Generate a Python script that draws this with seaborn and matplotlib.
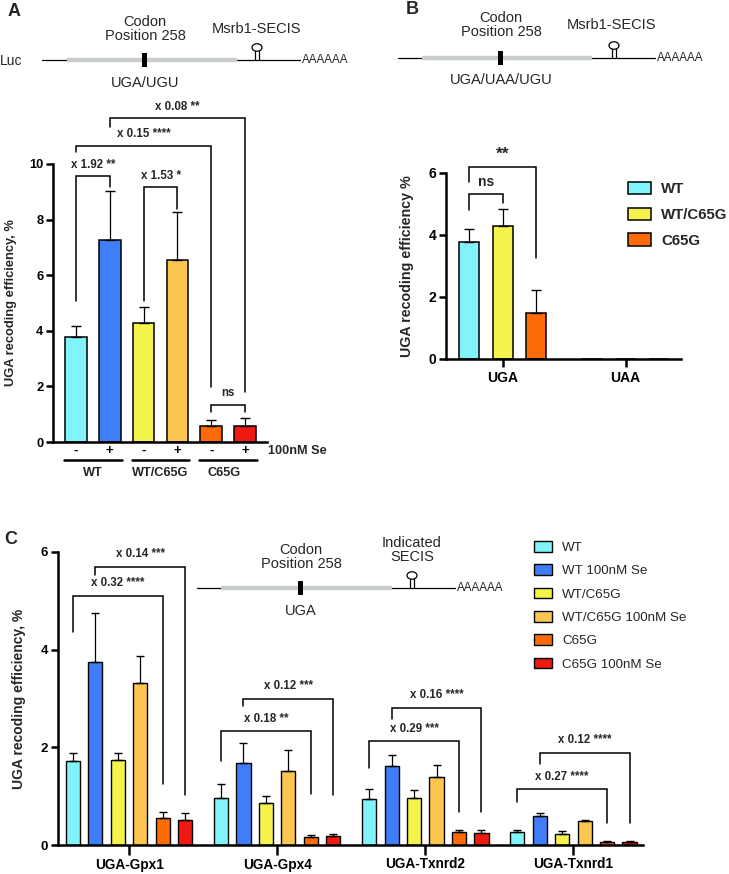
import matplotlib
matplotlib.use("Agg")
import matplotlib.pyplot as plt
from matplotlib.patches import Patch, Rectangle, Ellipse
import numpy as np
import pandas as pd
import seaborn as sns

# ---------------- data ----------------
# panel A: luciferase reporter with Msrb1 SECIS, -/+ 100nM Se
a_genotype = ["WT", "WT", "WT/C65G", "WT/C65G", "C65G", "C65G"]
a_se = ["-", "+", "-", "+", "-", "+"]
a_mean = [3.79, 7.28, 4.28, 6.55, 0.59, 0.59]
a_sd = [0.40, 1.74, 0.56, 1.72, 0.20, 0.27]

# panel B: UGA vs UAA codon
b_codons = ["UGA", "UAA"]
b_genotypes = ["WT", "WT/C65G", "C65G"]
b_uga_mean = [3.79, 4.28, 1.50]
b_uga_sd = [0.40, 0.56, 0.74]
b_uaa_mean = [0.0, 0.0, 0.0]

# panel C: indicated SECIS elements
c_genes = ["UGA-Gpx1", "UGA-Gpx4", "UGA-Txnrd2", "UGA-Txnrd1"]
c_conditions = ["WT", "WT 100nM Se", "WT/C65G", "WT/C65G 100nM Se",
                "C65G", "C65G 100nM Se"]
gpx1_mean = [1.72, 3.74, 1.75, 3.31, 0.55, 0.51]
gpx1_sd = [0.16, 1.01, 0.14, 0.57, 0.12, 0.14]
gpx4_mean = [0.96, 1.68, 0.85, 1.51, 0.17, 0.18]
gpx4_sd = [0.28, 0.41, 0.16, 0.43, 0.04, 0.04]
txnrd2_mean = [0.95, 1.62, 0.96, 1.40, 0.26, 0.25]
txnrd2_sd = [0.19, 0.22, 0.16, 0.23, 0.05, 0.05]
txnrd1_mean = [0.26, 0.60, 0.23, 0.49, 0.06, 0.06]
txnrd1_sd = [0.04, 0.06, 0.05, 0.02, 0.02, 0.02]

colors = ["#80F3FB", "#3F7EF6", "#F4F34C", "#FDC650", "#FD6A08", "#EE1A12"]

# significance brackets: (bar_left, bar_right, y_top, y_left_end, y_right_end, label, y_label)
a_brackets = [
    (0, 1, 9.57, 5.07, 9.17, "x 1.92 **", 9.98),
    (2, 3, 9.17, 5.07, 8.38, "x 1.53 *", 9.58),
    (0, 4, 10.65, 10.43, 1.98, "x 0.15 ****", 11.08),
    (1, 5, 11.65, 11.33, 1.80, "x 0.08 **", 12.05),
    (4, 5, 1.33, 1.08, 1.08, "ns", 1.75),
]
b_brackets = [
    (0, 1, 5.32, 4.80, 5.03, "ns", 5.72),
    (0, 2, 6.19, 5.70, 3.26, "**", 6.62),
]
c_brackets = [
    [(0, 4, 5.10, 4.37, 1.24, "x 0.32 ****", 5.37), (1, 5, 5.70, 5.53, 1.02, "x 0.14 ***", 5.95)],
    [(0, 4, 2.33, 1.72, 1.04, "x 0.18 **", 2.58), (1, 5, 2.99, 2.84, 1.02, "x 0.12 ***", 3.26)],
    [(0, 4, 2.13, 1.57, 0.67, "x 0.29 ***", 2.37), (1, 5, 2.80, 2.58, 0.67, "x 0.16 ****", 3.07)],
    [(0, 4, 1.14, 0.88, 0.45, "x 0.27 ****", 1.39), (1, 5, 1.88, 1.66, 0.45, "x 0.12 ****", 2.15)],
]

# ---------------- style ----------------
sns.set_style("ticks")
plt.rcParams["font.family"] = ["Liberation Sans", "DejaVu Sans"]
plt.rcParams["axes.linewidth"] = 1.8
plt.rcParams["xtick.major.width"] = 1.8
plt.rcParams["ytick.major.width"] = 1.8
plt.rcParams["xtick.color"] = "black"
plt.rcParams["ytick.color"] = "black"
plt.rcParams["axes.edgecolor"] = "black"

W, H = 729, 874
fig = plt.figure(figsize=(W / 100, H / 100), dpi=100)


def px_axes(left, right, top, bottom):
    return fig.add_axes([left / W, 1 - bottom / H, (right - left) / W, (bottom - top) / H])


def bar_centers(ax):
    # one container per hue level, bars ordered by category
    return [[b.get_x() + b.get_width() / 2 for b in cont] for cont in ax.containers]


def add_bracket(ax, x1, x2, ytop, y1, y2, label, ty, fs=8.3):
    ax.plot([x1, x1, x2, x2], [y1, ytop, ytop, y2], color="black", lw=1.1,
            clip_on=False, solid_joinstyle="miter")
    ax.text((x1 + x2) / 2, ty, label, ha="center", va="center",
            fontsize=fs, fontweight="bold", clip_on=False)


def bold_ticks(ax):
    for t in ax.get_xticklabels() + ax.get_yticklabels():
        t.set_fontweight("bold")


# ---------------- panel A ----------------
axA = px_axes(53, 267, 164, 442)
dfA = pd.DataFrame({"cond": [f"{g} {s}" for g, s in zip(a_genotype, a_se)],
                    "value": a_mean})
sns.barplot(data=dfA, x="cond", y="value", hue="cond", palette=colors,
            saturation=1, width=0.64, edgecolor="black", linewidth=1.1,
            errorbar=None, legend=False, ax=axA)
xa = [c[0] for c in bar_centers(axA)]
axA.errorbar(xa, a_mean, yerr=[np.zeros(len(a_sd)), a_sd], fmt="none",
             ecolor="black", elinewidth=0.9, capsize=3.6, capthick=1.0)
axA.set_xlim(-0.68, 5.65)
axA.set_ylim(0, 10)
axA.set_yticks([0, 2, 4, 6, 8, 10])
axA.set_xticks(xa)
axA.set_xticklabels(a_se, fontsize=9.5)
axA.tick_params(axis="x", length=0, pad=2)
axA.tick_params(axis="y", length=5, labelsize=9.3, pad=2)
bold_ticks(axA)
axA.set_xlabel("")
axA.set_ylabel("UGA recoding efficiency, %", fontsize=9.3, fontweight="bold")
axA.yaxis.set_label_coords(-0.17, 0.5)
sns.despine(ax=axA)
for b in a_brackets:
    add_bracket(axA, xa[b[0]], xa[b[1]], *b[2:])
xtr = axA.get_xaxis_transform()
for i, name in enumerate(["WT", "WT/C65G", "C65G"]):
    axA.plot([2 * i - 0.35, 2 * i + 1.35], [-0.065, -0.065], color="black",
             lw=1.8, transform=xtr, clip_on=False)
    axA.text(2 * i + 0.5 - (0.12 if i == 2 else 0), -0.112, name, transform=xtr,
             ha="center", va="center", fontsize=9.2, fontweight="bold")
axA.text(1.005, -0.032, "100nM Se", transform=axA.transAxes, ha="left",
         va="center", fontsize=9.2, fontweight="bold")

# ---------------- panel B ----------------
axB = px_axes(446, 681, 173, 359)
dfB = pd.DataFrame({
    "codon": [b_codons[0]] * 3 + [b_codons[1]] * 3,
    "genotype": b_genotypes * 2,
    "value": b_uga_mean + b_uaa_mean,
})
sns.barplot(data=dfB, x="codon", y="value", hue="genotype", order=b_codons,
            hue_order=b_genotypes, palette=colors[0::2], saturation=1,
            width=0.82, gap=0.4, edgecolor="black", linewidth=1.1,
            errorbar=None, legend=False, ax=axB)
xb = bar_centers(axB)
xb_uga = [xb[h][0] for h in range(3)]
axB.errorbar(xb_uga, b_uga_mean, yerr=[np.zeros(3), b_uga_sd], fmt="none",
             ecolor="black", elinewidth=0.9, capsize=3.6, capthick=1.0)
axB.set_xlim(-0.46, 1.45)
axB.set_ylim(0, 6)
axB.set_yticks([0, 2, 4, 6])
axB.tick_params(axis="x", length=6, labelsize=10, pad=3)
axB.tick_params(axis="y", length=5, labelsize=10, pad=2)
bold_ticks(axB)
axB.set_xlabel("")
axB.set_ylabel("UGA recoding efficiency %", fontsize=10.3, fontweight="bold")
axB.yaxis.set_label_coords(-0.135, 0.5)
sns.despine(ax=axB)
for b in b_brackets:
    add_bracket(axB, xb_uga[b[0]], xb_uga[b[1]], *b[2:],
                fs=12.5 if b[5] == "**" else 10)
handlesB = [Patch(facecolor=c, edgecolor="black", lw=1.1) for c in colors[0::2]]
fig.legend(handlesB, b_genotypes, loc="upper left",
           bbox_to_anchor=(628 / W, 1 - 182 / H), frameon=False,
           prop={"size": 10.8, "weight": "bold"}, handlelength=1.5,
           handleheight=0.9, labelspacing=0.75, handletextpad=0.7,
           borderpad=0, borderaxespad=0)

# ---------------- panel C ----------------
axC = px_axes(58, 643, 552, 845)
c_means = [gpx1_mean, gpx4_mean, txnrd2_mean, txnrd1_mean]
c_sds = [gpx1_sd, gpx4_sd, txnrd2_sd, txnrd1_sd]
dfC = pd.DataFrame({
    "gene": np.repeat(c_genes, len(c_conditions)),
    "condition": c_conditions * len(c_genes),
    "value": np.concatenate(c_means),
    "sd": np.concatenate(c_sds),
})
sns.barplot(data=dfC, x="gene", y="value", hue="condition", order=c_genes,
            hue_order=c_conditions, palette=colors, saturation=1, width=0.91,
            gap=0.37, edgecolor="black", linewidth=1.0, errorbar=None,
            legend=False, ax=axC)
xc = bar_centers(axC)  # [condition][gene]
for h in range(len(c_conditions)):
    sub = dfC[dfC["condition"] == c_conditions[h]]
    axC.errorbar(xc[h], sub["value"], yerr=[np.zeros(len(sub)), sub["sd"]],
                 fmt="none", ecolor="black", elinewidth=0.9, capsize=3.0, capthick=1.0)
axC.set_xlim(-0.48, 3.47)
axC.set_ylim(0, 6)
axC.set_yticks([0, 2, 4, 6])
axC.tick_params(axis="x", length=7, labelsize=9.8, pad=2)
axC.tick_params(axis="y", length=5, labelsize=9.5, pad=2)
bold_ticks(axC)
axC.set_xlabel("")
axC.set_ylabel("UGA recoding efficiency, %", fontsize=10, fontweight="bold")
axC.yaxis.set_label_coords(-0.054, 0.5)
sns.despine(ax=axC)
for g, brs in enumerate(c_brackets):
    for b in brs:
        add_bracket(axC, xc[b[0]][g], xc[b[1]][g], *b[2:])
handlesC = [Patch(facecolor=c, edgecolor="black", lw=1.0) for c in colors]
fig.legend(handlesC, c_conditions, loc="upper left",
           bbox_to_anchor=(534 / W, 1 - 541 / H), frameon=False,
           prop={"size": 9.6}, handlelength=1.35, handleheight=0.85,
           labelspacing=0.78, handletextpad=0.75, borderpad=0, borderaxespad=0)

# ---------------- schematics and panel letters (pixel overlay, on top) ----------------
ov = fig.add_axes([0, 0, 1, 1])
ov.set_xlim(0, W)
ov.set_ylim(H, 0)
ov.axis("off")


def construct(x0, g0, g1, x1, y, xbox, xloop, tail):
    ov.plot([x0, g0], [y, y], color="black", lw=0.9)
    ov.plot([g0, g1], [y, y], color="#C9CDCD", lw=3.2, solid_capstyle="butt")
    ov.plot([g1, x1], [y, y], color="black", lw=0.9)
    ov.add_patch(Rectangle((xbox - 2.5, y - 7), 5, 14, color="black", lw=0, zorder=4))
    ov.plot([xloop - 2.0, xloop - 2.0], [y, y - 9], color="black", lw=0.9)
    ov.plot([xloop + 2.0, xloop + 2.0], [y, y - 9], color="black", lw=0.9)
    ov.add_patch(Ellipse((xloop, y - 12.5), 10, 7.5, fill=False, ec="black", lw=0.9))
    ov.text(x1 + 2, y, tail, ha="left", va="center", fontsize=8.4)


ov.text(8, 12, "A", fontsize=13, fontweight="bold", ha="left", va="center")
ov.text(406, 10, "B", fontsize=13, fontweight="bold", ha="left", va="center")
ov.text(4, 540, "C", fontsize=13, fontweight="bold", ha="left", va="center")

construct(42, 67, 237, 300, 60, 145, 257, "AAAAAA")
ov.text(0, 61, "Luc", fontsize=10, ha="left", va="center")
ov.text(145, 29, "Codon\nPosition 258", fontsize=10.5, ha="center", va="center", linespacing=1.05)
ov.text(257, 29, "Msrb1-SECIS", fontsize=10.5, ha="center", va="center")
ov.text(145, 83, "UGA/UGU", fontsize=10.5, ha="center", va="center")

construct(398, 422, 592, 655, 58, 501, 614, "AAAAAA")
ov.text(501, 25, "Codon\nPosition 258", fontsize=10.5, ha="center", va="center", linespacing=1.05)
ov.text(612, 25, "Msrb1-SECIS", fontsize=10.5, ha="center", va="center")
ov.text(501, 80, "UGA/UAA/UGU", fontsize=10.5, ha="center", va="center")

construct(197, 221, 392, 455, 588, 301, 412, "AAAAAA")
ov.text(301, 557, "Codon\nPosition 258", fontsize=10.5, ha="center", va="center", linespacing=1.05)
ov.text(412, 550, "Indicated\nSECIS", fontsize=10.5, ha="center", va="center", linespacing=1.05)
ov.text(301, 611, "UGA", fontsize=10.5, ha="center", va="center")

fig.savefig("out.png", dpi=100)
